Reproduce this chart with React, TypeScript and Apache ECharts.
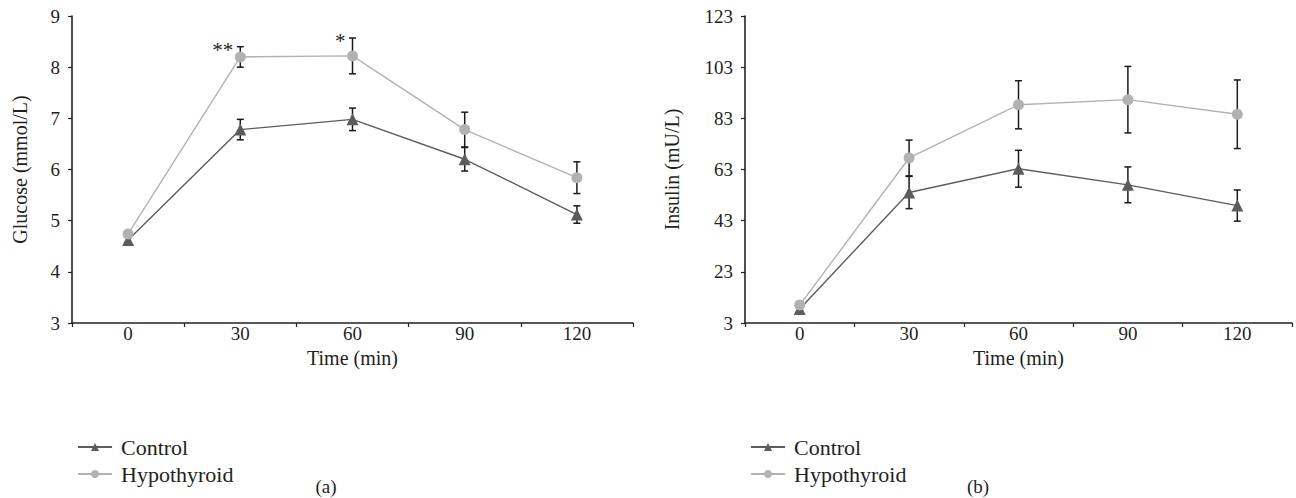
import React, { useEffect, useRef } from "react";
import * as echarts from "echarts";

const timeLabels = ["0", "30", "60", "90", "120"];
const seriesNames = ["Control", "Hypothyroid"];

const glucoseControl = [4.62, 6.78, 6.98, 6.2, 5.12];
const glucoseControlErr = [0.05, 0.2, 0.22, 0.23, 0.17];
const glucoseHypo = [4.74, 8.2, 8.22, 6.78, 5.84];
const glucoseHypoErr = [0.06, 0.2, 0.35, 0.34, 0.31];

const insulinControl = [8.5, 54, 63.3, 57, 48.9];
const insulinControlErr = [0.8, 6.3, 7.2, 7, 6.1];
const insulinHypo = [10, 67.5, 88.3, 90.3, 84.6];
const insulinHypoErr = [0.8, 7, 9.4, 13, 13.4];

const glucoseTicks = { min: 3, max: 9, interval: 1 };
const insulinTicks = { min: 3, max: 123, interval: 20 };

const glucoseStars = [
  { index: 1, text: "**" },
  { index: 2, text: "*" },
];

const FONT = "'Liberation Serif', 'Times New Roman', serif";
const TEXT = "#231f20";
const DARK = "#5c5c5c";
const LIGHT = "#b2b2b2";

function errData(v: number[], e: number[]) {
  return v.map((val, i) => [i, val - e[i], val + e[i]]);
}

function errSeries(idx: number, v: number[], e: number[]) {
  return {
    type: "custom",
    name: "err" + idx + "_" + v[1],
    xAxisIndex: idx,
    yAxisIndex: idx,
    z: 1,
    data: errData(v, e),
    encode: { x: 0, y: [1, 2] },
    renderItem: (params: any, api: any) => {
      const x = api.value(0);
      const lo = api.coord([x, api.value(1)]);
      const hi = api.coord([x, api.value(2)]);
      const hw = 3.5;
      const style = { stroke: "#1a1a1a", lineWidth: 1.5 };
      return {
        type: "group",
        children: [
          { type: "line", shape: { x1: hi[0], y1: hi[1], x2: lo[0], y2: lo[1] }, style },
          { type: "line", shape: { x1: hi[0] - hw, y1: hi[1], x2: hi[0] + hw, y2: hi[1] }, style },
          { type: "line", shape: { x1: lo[0] - hw, y1: lo[1], x2: lo[0] + hw, y2: lo[1] }, style },
        ],
      };
    },
  };
}

function lineSeries(idx: number, name: string, v: number[], dark: boolean, extra: any = {}) {
  return {
    type: "line",
    name,
    xAxisIndex: idx,
    yAxisIndex: idx,
    z: 3,
    data: v,
    symbol: dark ? "triangle" : "circle",
    symbolSize: dark ? 12 : 11,
    lineStyle: { color: dark ? DARK : LIGHT, width: 1.4 },
    itemStyle: { color: dark ? DARK : LIGHT },
    ...extra,
  };
}

function xAxis(idx: number) {
  return {
    type: "category",
    gridIndex: idx,
    data: timeLabels,
    boundaryGap: true,
    name: "Time (min)",
    nameLocation: "middle",
    nameGap: 20,
    nameTextStyle: { fontFamily: FONT, fontSize: 20, color: TEXT },
    axisLine: { lineStyle: { color: "#222", width: 1.6 } },
    axisTick: { show: true, inside: false, length: 4, lineStyle: { color: "#222", width: 1.2 } },
    axisLabel: { fontFamily: FONT, fontSize: 19, color: TEXT, margin: 1 },
    splitLine: { show: false },
  };
}

function yAxis(idx: number, name: string, t: any, gap: number) {
  return {
    type: "value",
    gridIndex: idx,
    min: t.min,
    max: t.max,
    interval: t.interval,
    name,
    nameLocation: "middle",
    nameGap: gap,
    nameTextStyle: { fontFamily: FONT, fontSize: 20, color: TEXT },
    axisLine: { show: true, lineStyle: { color: "#222", width: 1.6 } },
    axisTick: { show: true, inside: false, length: 4, lineStyle: { color: "#222", width: 1.2 } },
    axisLabel: { fontFamily: FONT, fontSize: 19, color: TEXT, margin: 12 },
    splitLine: { show: false },
  };
}

function legend(left: number) {
  return {
    data: seriesNames,
    orient: "vertical",
    left,
    top: 431,
    itemWidth: 34,
    itemHeight: 10,
    itemGap: 5,
    textStyle: { fontFamily: FONT, fontSize: 22, color: TEXT, padding: [0, 0, 0, 4] },
    selectedMode: false,
  };
}

export default function App() {
  const ref = useRef<HTMLDivElement>(null);
  useEffect(() => {
    if (!ref.current) return;
    const chart = echarts.init(ref.current, undefined, { renderer: "svg" });
    const starPoints = glucoseStars.map((s) => ({
      coord: [s.index, glucoseHypo[s.index] + glucoseHypoErr[s.index]],
      value: s.text,
    }));
    chart.setOption({
      animation: false,
      backgroundColor: "#ffffff",
      grid: [
        { left: 72, right: 663, top: 16, bottom: 175 },
        { left: 745, right: 4, top: 16, bottom: 175 },
      ],
      xAxis: [xAxis(0), xAxis(1)],
      yAxis: [
        yAxis(0, "Glucose (mmol/L)", glucoseTicks, 42),
        yAxis(1, "Insulin (mU/L)", insulinTicks, 63),
      ],
      legend: [legend(72), legend(745)],
      graphic: [
        { type: "text", x: 326, y: 486, style: { text: "(a)", font: `19px ${FONT}`, fill: TEXT, textAlign: "center", textVerticalAlign: "middle" } },
        { type: "text", x: 978, y: 486, style: { text: "(b)", font: `19px ${FONT}`, fill: TEXT, textAlign: "center", textVerticalAlign: "middle" } },
      ],
      series: [
        errSeries(0, glucoseControl, glucoseControlErr),
        errSeries(0, glucoseHypo, glucoseHypoErr),
        errSeries(1, insulinControl, insulinControlErr),
        errSeries(1, insulinHypo, insulinHypoErr),
        lineSeries(0, "Control", glucoseControl, true),
        lineSeries(0, "Hypothyroid", glucoseHypo, false, {
          markPoint: {
            symbol: "circle",
            symbolSize: 0,
            itemStyle: { color: "transparent" },
            label: {
              show: true,
              position: "left",
              distance: 7,
              offset: [0, 3],
              formatter: (p: any) => p.value,
              fontFamily: FONT,
              fontSize: 21,
              color: TEXT,
            },
            data: starPoints,
          },
        }),
        lineSeries(1, "Control", insulinControl, true),
        lineSeries(1, "Hypothyroid", insulinHypo, false),
      ],
    });
    return () => chart.dispose();
  }, []);
  return (
    <div
      ref={ref}
      style={{ position: "fixed", left: 0, top: 0, width: 1296, height: 498, background: "#fff" }}
    />
  );
}
